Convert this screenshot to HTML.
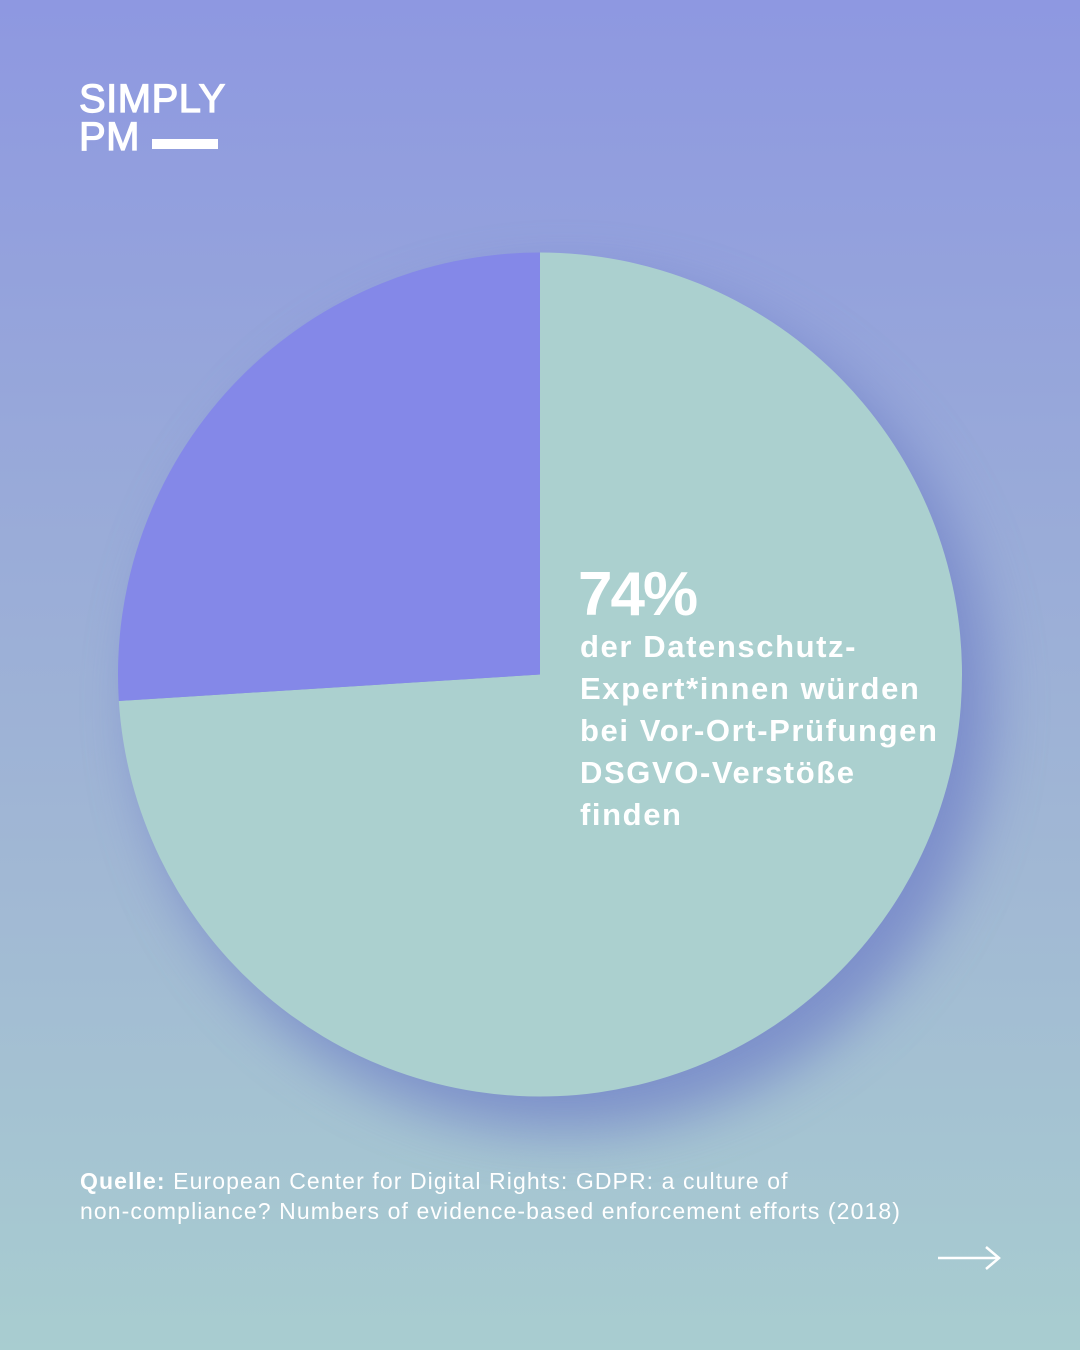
<!DOCTYPE html>
<html><head><meta charset="utf-8"><style>
html,body{margin:0;padding:0}
body{width:1080px;height:1350px;overflow:hidden;position:relative;background:linear-gradient(180deg,#8e98e1 0%,#97a7da 30%,#a1b8d4 65%,#a8cdd0 100%);font-family:"Liberation Sans",sans-serif;color:#fff}
.logo{position:absolute;left:79px;font-size:40px;line-height:38px;font-weight:400;letter-spacing:0.5px;-webkit-text-stroke:1.2px #fff}
.src{position:absolute;left:80px;top:1166px;font-size:23px;line-height:30px;letter-spacing:1.1px}
</style></head><body>
<div class="logo" style="top:80px">SIMPLY</div>
<div class="logo" style="top:118px">PM</div>
<div style="position:absolute;left:152px;top:139px;width:66px;height:10px;background:#fff"></div>
<svg id="chart" width="1080" height="1350" style="position:absolute;left:0;top:0">
<defs><filter id="sh" x="-30%" y="-30%" width="160%" height="160%"><feGaussianBlur stdDeviation="28"/></filter></defs>
<circle cx="565" cy="705" r="425" fill="#6f80c8" opacity="0.75" filter="url(#sh)"/>
<g id="slices"></g>
<text x="578" y="615" font-size="62" font-weight="700" letter-spacing="-2" fill="#fff" font-family="Liberation Sans, sans-serif">74%</text>
<g font-size="31" font-weight="700" letter-spacing="1.6" fill="#fff" font-family="Liberation Sans, sans-serif">
<text x="580" y="657">der Datenschutz-</text>
<text x="580" y="699">Expert*innen würden</text>
<text x="580" y="741">bei Vor-Ort-Prüfungen</text>
<text x="580" y="783">DSGVO-Verstöße</text>
<text x="580" y="825">finden</text>
</g>
<g>
<line x1="938" y1="1258" x2="998" y2="1258" stroke="#fff" stroke-width="2.5"/>
<polyline points="986,1247 999,1258 986,1269" fill="none" stroke="#fff" stroke-width="2.5"/>
</g>
</svg>
<div class="src"><b>Quelle:</b> European Center for Digital Rights: GDPR: a culture of<br>non-compliance? Numbers of evidence-based enforcement efforts (2018)</div>
<script>
const categories = ["Verstöße gefunden", "Andere"];
const values = [74, 26];
const colors = ["#abd0cf", "#8488e8"];
const cx = 540, cy = 674.5, r = 422;
const g = document.getElementById('slices');
const total = values.reduce((a,b)=>a+b,0);
let start = 0;
function pt(a){return [cx + r*Math.sin(a), cy - r*Math.cos(a)];}
values.forEach((v,i)=>{
  const a0 = start/total*2*Math.PI, a1 = (start+v)/total*2*Math.PI;
  const p0 = pt(a0), p1 = pt(a1);
  const large = (a1-a0) > Math.PI ? 1 : 0;
  const p = document.createElementNS('http://www.w3.org/2000/svg','path');
  p.setAttribute('d', `M${cx},${cy} L${p0[0]},${p0[1]} A${r},${r} 0 ${large} 1 ${p1[0]},${p1[1]} Z`);
  p.setAttribute('fill', colors[i]);
  
  
  g.appendChild(p);
  start += v;
});
</script>
</body></html>
